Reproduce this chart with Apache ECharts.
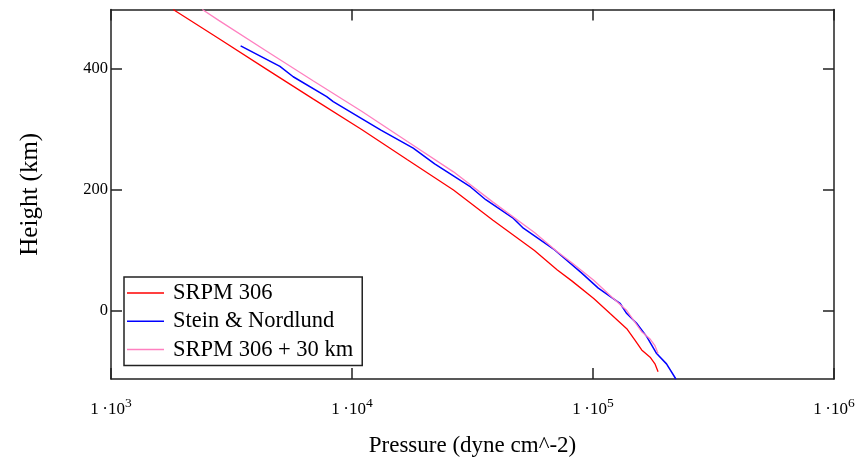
<!DOCTYPE html>
<html><head><meta charset="utf-8">
<script src="https://cdn.jsdelivr.net/npm/echarts@6/dist/echarts.min.js"></script>
<style>html,body{margin:0;padding:0;background:#fff}#c{width:865px;height:461px}</style>
</head><body><div id="c"></div>
<script>
// SRPM 306
const redHeight = [498, 450, 400, 350, 300, 250, 200, 150, 100, 68, 50, 21, -4, -29, -48, -64, -76, -87, -100];
const redPressure = [1811, 2799, 4395, 6918, 10965, 16982, 26363, 38459, 57148, 71121, 81658, 100693, 117761, 138038, 149279, 159221, 172584, 180717, 186209];
// Stein & Nordlund
const blueHeight = [438, 404, 387, 354, 346, 318, 299, 269, 243, 205, 184, 153, 137, 103, 64, 38, 13, -4, -20, -42, -70, -87, -112];
const bluePressure = [3451, 5023, 5702, 7852, 8356, 10965, 13183, 17947, 22029, 31046, 35892, 46774, 51404, 68391, 89125, 105196, 129419, 138038, 151705, 167109, 183654, 201837, 220800];
// SRPM 306 + 30 km
const pinkHeight = [498, 480, 430, 380, 330, 280, 230, 180, 130, 98, 80, 51, 26, 1, -18, -34, -46, -57, -70];
const pinkPressure = [2393, 2799, 4395, 6918, 10965, 16982, 26363, 38459, 57148, 71121, 81658, 100693, 117761, 138038, 149279, 159221, 172584, 180717, 186209];

const seriesNames = ['SRPM 306', 'Stein & Nordlund', 'SRPM 306 + 30 km'];
const xTicks = [1000, 10000, 100000, 1000000];
const yTicks = [0, 200, 400];

const zip = (xs, ys) => xs.map((x, i) => [x, ys[i]]);
const FONT = '"Liberation Serif", "DejaVu Serif", serif';
const frame = '#222';

const xCommon = {
  type: 'log', logBase: 10, min: 1000, max: 1000000,
  axisLine: { show: true, onZero: false, lineStyle: { color: frame, width: 1.5 } },
  axisTick: { show: true, inside: true, length: 11, customValues: xTicks, lineStyle: { color: frame, width: 1.5 } },
  splitLine: { show: false }
};
const yCommon = {
  type: 'value', min: -112, max: 498,
  axisLine: { show: true, onZero: false, lineStyle: { color: frame, width: 1.5 } },
  axisTick: { show: true, inside: true, length: 11, customValues: yTicks, lineStyle: { color: frame, width: 1.5 } },
  splitLine: { show: false }
};

const chart = echarts.init(document.getElementById('c'), null, { renderer: 'canvas' });
chart.setOption({
  backgroundColor: '#fff',
  animation: false,
  grid: { left: 111, right: 31, top: 9.5, bottom: 82, containLabel: false, outerBoundsMode: 'none' },
  xAxis: [
    Object.assign({}, xCommon, {
      position: 'bottom',
      name: 'Pressure (dyne cm^-2)', nameLocation: 'middle', nameGap: 55,
      nameTextStyle: { fontFamily: FONT, fontSize: 23, color: '#000' },
      axisLabel: {
        customValues: xTicks, margin: 17,
        formatter: v => '{a|1\u2009·10}{b|' + Math.round(Math.log10(v)) + '}',
        rich: {
          a: { fontFamily: FONT, fontSize: 17, color: '#000', lineHeight: 22, verticalAlign: 'bottom' },
          b: { fontFamily: FONT, fontSize: 13.5, color: '#000', lineHeight: 22, verticalAlign: 'top' }
        }
      }
    }),
    Object.assign({}, xCommon, { position: 'top', axisLabel: { show: false } })
  ],
  yAxis: [
    Object.assign({}, yCommon, {
      position: 'left',
      name: 'Height (km)', nameLocation: 'middle', nameGap: 68, nameRotate: 90,
      nameTextStyle: { fontFamily: FONT, fontSize: 25, color: '#000' },
      axisLabel: { customValues: yTicks, margin: 3, fontFamily: FONT, fontSize: 16.5, color: '#000' }
    }),
    Object.assign({}, yCommon, { position: 'right', axisLabel: { show: false } })
  ],
  legend: {
    orient: 'vertical', left: 124, top: 277,
    data: seriesNames,
    icon: 'rect', itemWidth: 37, itemHeight: 1.5, itemGap: 4.3,
    padding: [4, 9, 4, 3],
    borderColor: frame, borderWidth: 1.5, backgroundColor: '#fff',
    textStyle: { fontFamily: FONT, fontSize: 22.5, color: '#000', lineHeight: 24, padding: [0, 0, 0, 4] }
  },
  series: [
    { name: seriesNames[0], type: 'line', data: zip(redPressure, redHeight), showSymbol: false, symbol: 'none',
      lineStyle: { color: '#ff0000', width: 1.3 }, itemStyle: { color: '#ff0000' } },
    { name: seriesNames[1], type: 'line', data: zip(bluePressure, blueHeight), showSymbol: false, symbol: 'none',
      lineStyle: { color: '#0000ff', width: 1.5 }, itemStyle: { color: '#0000ff' } },
    { name: seriesNames[2], type: 'line', data: zip(pinkPressure, pinkHeight), showSymbol: false, symbol: 'none',
      lineStyle: { color: '#ff80c0', width: 1.3 }, itemStyle: { color: '#ff80c0' } }
  ]
});
</script></body></html>
